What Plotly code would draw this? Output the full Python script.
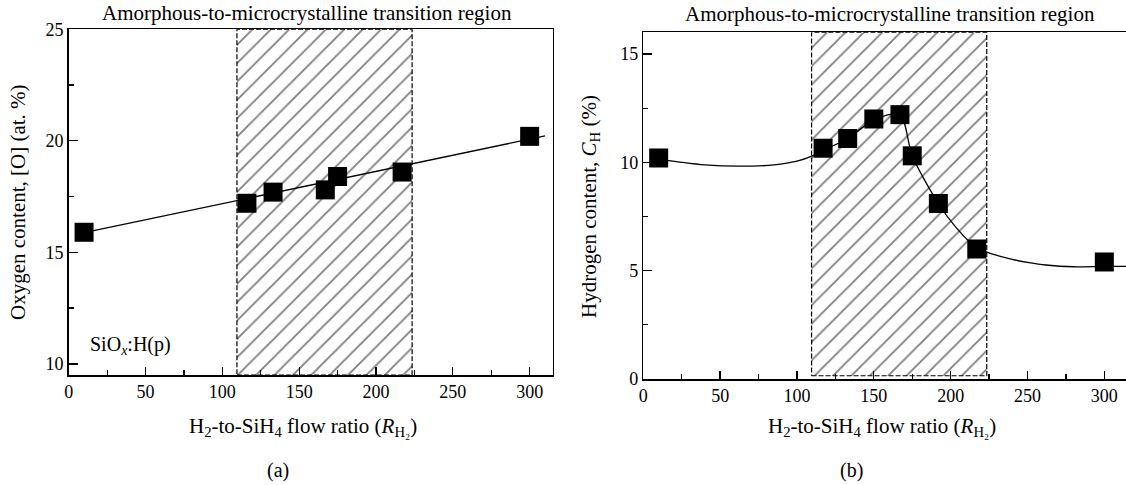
import plotly.graph_objects as go

# ---------------- data ----------------
# (a) oxygen content vs H2-to-SiH4 flow ratio
ox_x = [10, 116, 133, 167, 175, 217, 300]
ox_y = [15.9, 17.2, 17.7, 17.8, 18.4, 18.6, 20.2]
# linear fit line
ox_fit_x = [10, 310]
ox_fit_y = [15.88, 20.22]

# (b) hydrogen content vs H2-to-SiH4 flow ratio
h_x = [10, 117, 133, 150, 167, 175, 192, 217, 300]
h_y = [10.2, 10.65, 11.1, 12.0, 12.2, 10.3, 8.1, 6.0, 5.4]
# guide curve
h_curve_x = [10, 25, 40, 62, 85, 100, 110, 117, 133, 150, 167, 175, 192, 204, 217, 228, 240, 251, 262, 280, 300, 315]
h_curve_y = [10.15, 10.0, 9.88, 9.82, 9.88, 10.05, 10.3, 10.55, 11.1, 11.95, 12.2, 10.3, 8.1, 6.95, 6.05, 5.75, 5.52, 5.37, 5.26, 5.18, 5.2, 5.2]

# amorphous-to-microcrystalline transition region
region_x = [109.5, 223.5]
region_y_a = [9.5, 25]
region_y_b = [0.15, 16]

x_ticks = [0, 50, 100, 150, 200, 250, 300]

FONT = "Liberation Serif, Times New Roman, serif"
W, H = 1126, 485

fig = go.Figure()


def region_trace(xa, ya, rx, ry):
    return go.Scatter(
        x=[rx[0], rx[1], rx[1], rx[0], rx[0]],
        y=[ry[0], ry[0], ry[1], ry[1], ry[0]],
        xaxis=xa, yaxis=ya, mode="lines",
        fill="toself", fillcolor="white",
        fillpattern=dict(shape="/", size=13, solidity=0.14,
                         fgcolor="black", bgcolor="white", fillmode="overlay"),
        line=dict(color="black", width=1.2, dash="5px,2px"),
        hoverinfo="skip", showlegend=False)


fig.add_trace(region_trace("x", "y", region_x, region_y_a))
fig.add_trace(region_trace("x2", "y2", region_x, region_y_b))

fig.add_trace(go.Scatter(x=ox_fit_x, y=ox_fit_y, xaxis="x", yaxis="y", mode="lines",
                         line=dict(color="black", width=1.3), showlegend=False))
fig.add_trace(go.Scatter(x=ox_x, y=ox_y, xaxis="x", yaxis="y", mode="markers",
                         marker=dict(symbol="square", size=19, color="black"),
                         showlegend=False, cliponaxis=False))

fig.add_trace(go.Scatter(x=h_curve_x, y=h_curve_y, xaxis="x2", yaxis="y2", mode="lines",
                         line=dict(color="black", width=1.3, shape="spline", smoothing=0.8),
                         showlegend=False))
fig.add_trace(go.Scatter(x=h_x, y=h_y, xaxis="x2", yaxis="y2", mode="markers",
                         marker=dict(symbol="square", size=19, color="black"),
                         showlegend=False, cliponaxis=False))

tickfont = dict(family=FONT, size=18, color="black")

common_x = dict(tickvals=x_ticks, ticks="inside", ticklen=8, tickwidth=1.3,
                tickcolor="black", showline=True, linecolor="black", linewidth=1.5,
                showgrid=False, zeroline=False, tickfont=tickfont, automargin=False,
                minor=dict(ticks="inside", ticklen=5, tickwidth=1.2, dtick=25,
                           tick0=0, tickcolor="black"))
common_y = dict(ticks="inside", ticklen=9, tickwidth=1.3, tickcolor="black",
                showline=True, linecolor="black", linewidth=1.5, showgrid=False,
                zeroline=False, tickfont=tickfont, dtick=5, tick0=0, automargin=False,
                minor=dict(ticks="inside", ticklen=5, tickwidth=1.2, dtick=2.5,
                           tick0=0, tickcolor="black"))

fig.update_layout(
    width=W, height=H, autosize=False,
    margin=dict(l=0, r=0, t=0, b=0, pad=0),
    paper_bgcolor="white", plot_bgcolor="white",
    font=dict(family=FONT, color="black"),
    hovermode=False,
    xaxis=dict(domain=[68.7 / W, 552.7 / W], range=[0, 315], anchor="y",
               mirror=True, **common_x),
    yaxis=dict(domain=[1 - 375 / H, 1 - 29.3 / H], range=[9.5, 25], anchor="x",
               mirror=True, **common_y),
    xaxis2=dict(domain=[643.3 / W, 1.0], range=[0, 314.1], anchor="y2",
                mirror=True, **common_x),
    yaxis2=dict(domain=[1 - 379 / H, 1 - 32.3 / H], range=[0, 16], anchor="x2",
                mirror=False, **common_y),
)

title_font = dict(family=FONT, size=21, color="black")
axis_font = dict(family=FONT, size=21, color="black")
small_font = dict(family=FONT, size=20, color="black")
annotations = [
    dict(text="Amorphous-to-microcrystalline transition region", x=307 / W, y=1 - 13 / H,
         font=title_font),
    dict(text="Amorphous-to-microcrystalline transition region", x=890 / W, y=1 - 14 / H,
         font=title_font),
    dict(text="H<sub>2</sub>-to-SiH<sub>4</sub> flow ratio (<i>R</i><sub>H₂</sub>)",
         x=302.5 / W, y=1 - 427 / H, font=axis_font),
    dict(text="H<sub>2</sub>-to-SiH<sub>4</sub> flow ratio (<i>R</i><sub>H₂</sub>)",
         x=882 / W, y=1 - 427 / H, font=axis_font),
    dict(text="Oxygen content, [O] (at. %)", x=18 / W, y=1 - 202 / H, textangle=-90,
         font=axis_font),
    dict(text="Hydrogen content, <i>C</i><sub>H</sub> (%)", x=590 / W, y=1 - 207 / H,
         textangle=-90, font=axis_font),
    dict(text="(a)", x=278 / W, y=1 - 470 / H, font=small_font),
    dict(text="(b)", x=851 / W, y=1 - 470 / H, font=small_font),
    dict(text="SiO<sub><i>x</i></sub>:H(p)", x=130 / W, y=1 - 345 / H, font=small_font),
]
for a in annotations:
    fig.add_annotation(xref="paper", yref="paper", showarrow=False,
                       xanchor="center", yanchor="middle", **a)

fig.write_html("out.html",
               config={"displayModeBar": False, "staticPlot": True},
               post_script="document.body.style.margin='0';document.body.style.overflow='hidden';")
